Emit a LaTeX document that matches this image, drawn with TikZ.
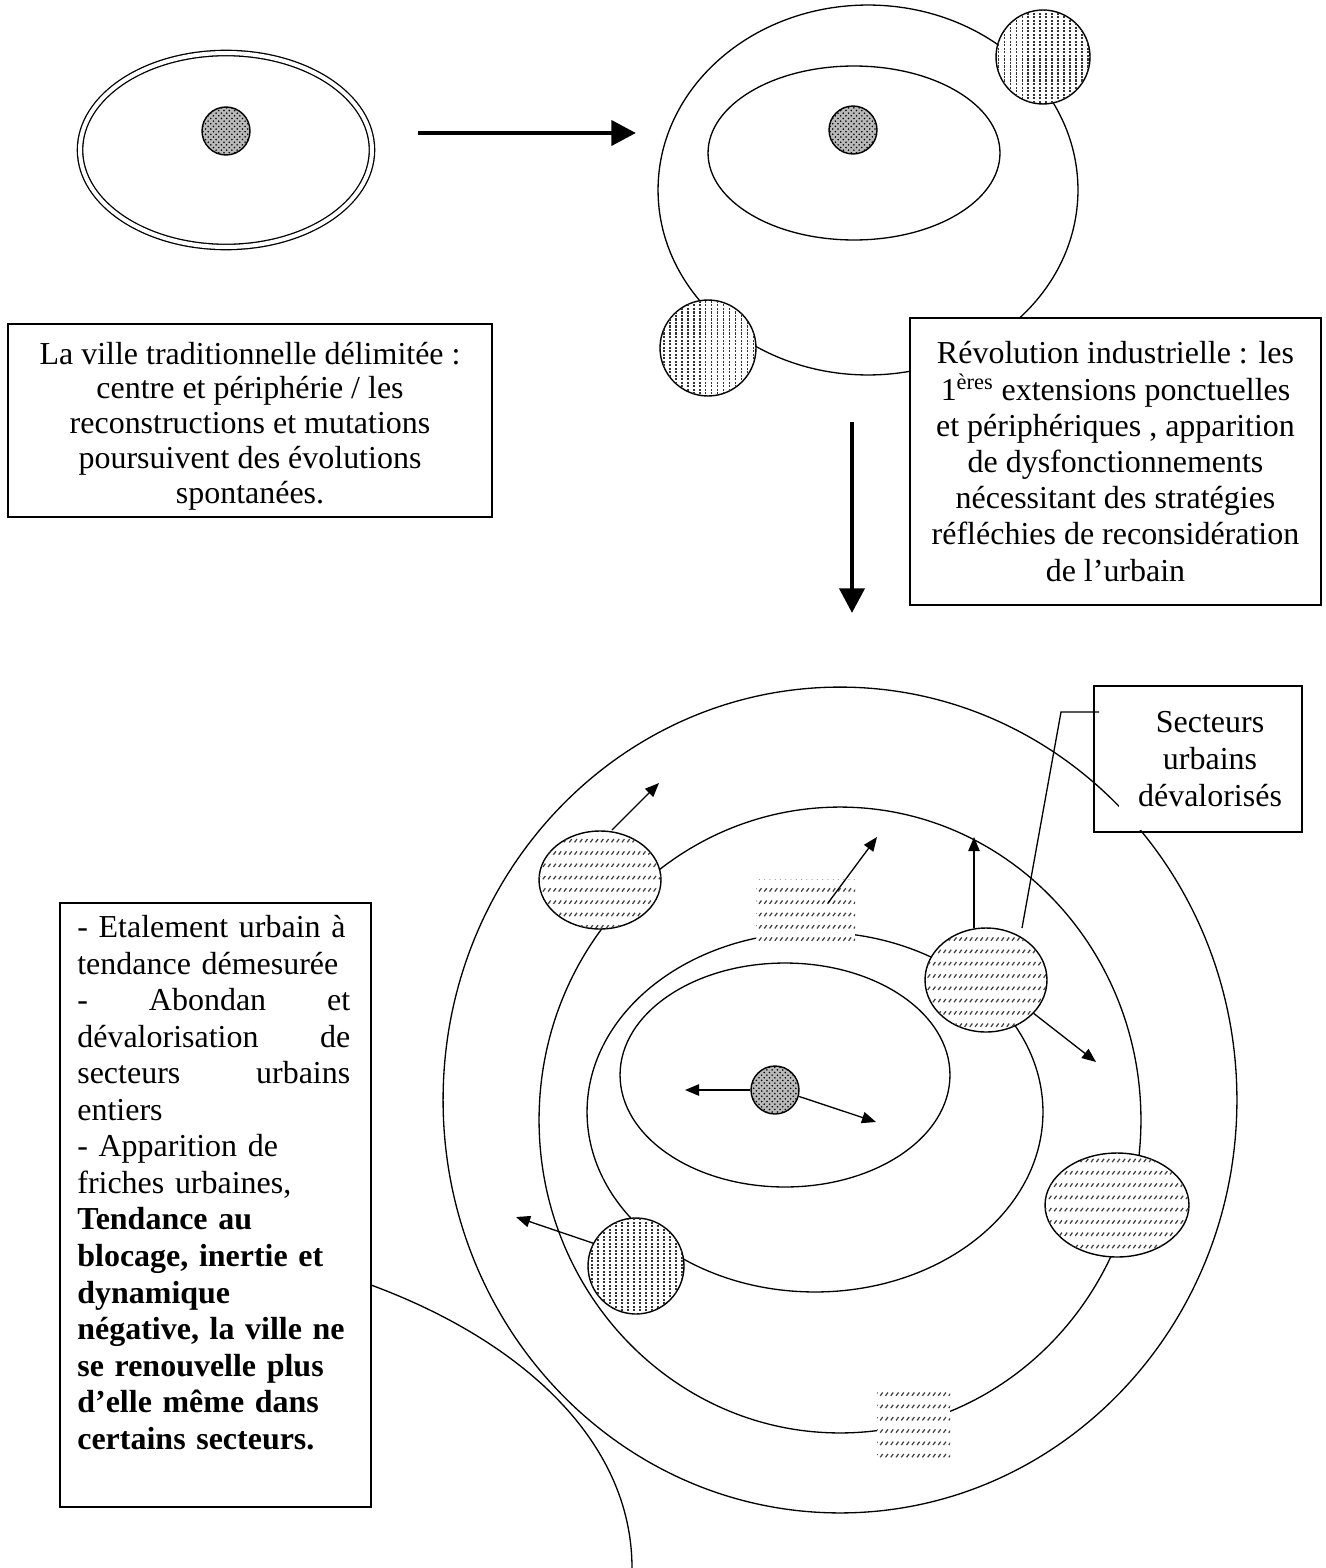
\documentclass[tikz,border=0pt]{standalone}
\usepackage{fontspec}
\setmainfont{Liberation Serif}
\usetikzlibrary{shapes.geometric,arrows.meta,patterns}
\pgfdeclarepatternformonly{vdotlines}{\pgfqpoint{-0.5pt}{-0.5pt}}{\pgfqpoint{3.9pt}{2.5pt}}{\pgfqpoint{3.4pt}{2pt}}{%
  \pgfpathrectangle{\pgfqpoint{0pt}{0pt}}{\pgfqpoint{0.9pt}{1.2pt}}\pgfusepath{fill}}
\pgfdeclarepatternformonly{hwaves}{\pgfqpoint{-0.5pt}{-0.5pt}}{\pgfqpoint{3.5pt}{7.3pt}}{\pgfqpoint{3pt}{7pt}}{%
  \pgfsetlinewidth{0.7pt}\pgfpathmoveto{\pgfqpoint{0pt}{0pt}}\pgfpathlineto{\pgfqpoint{1.4pt}{1.9pt}}\pgfusepath{stroke}}
\begin{document}
\begin{tikzpicture}[x=0.02cm,y=-0.02cm,
  ring/.style={line width=0.75pt},
  hv/.style={draw, line width=0.8pt, inner sep=0pt, fill=white, postaction={pattern=vdotlines, pattern color=black!80}},
  hh/.style={draw, line width=0.8pt, inner sep=0pt, fill=white, postaction={pattern=hwaves, pattern color=black!75}},
  hsq/.style={inner sep=0pt, fill=white, postaction={pattern=hwaves, pattern color=black!75}},
  cdot/.style={circle, draw, line width=0.8pt, inner sep=0pt, minimum size=0.96cm, fill=gray!55, postaction={pattern=crosshatch dots, pattern color=black}},
  thinarrow/.style={line width=0.75pt, -{Triangle[length=8pt,width=6.5pt]}},
  bigarrow/.style={line width=2.8pt, -{Triangle[length=14pt,width=14pt]}},
  txt/.style={font=\fontsize{18.2pt}{19.8pt}\selectfont},
  box/.style={draw, line width=0.75pt, fill=white, inner sep=0pt}
]
\useasboundingbox (0,0) rectangle (1325,1568);

% ---------- top left: traditional city ----------
\node[ellipse, draw, double, double distance=2.3pt, line width=0.75pt, inner sep=0pt,
      minimum width=5.84cm, minimum height=3.88cm] (oval) at (226,150) {};
\node[cdot] (dot1) at (226,131) {};

\coordinate (h1) at (418,133);
\coordinate (h2) at (636,133);
\draw[bigarrow] (h1) -- (h2);

% ---------- top right: industrial revolution ----------
\node[ellipse, draw, ring, inner sep=0pt, minimum width=8.4cm, minimum height=7.4cm] (bigE) at (868,190) {};
\node[ellipse, draw, ring, inner sep=0pt, minimum width=5.84cm, minimum height=3.48cm] (innE) at (854,153) {};
\node[cdot] (dot2) at (853,130) {};
\node[hv, circle, minimum size=1.88cm] (cTR) at (1043,57) {};
\node[hv, circle, minimum size=1.92cm] (cL) at (708,348) {};

\coordinate (v1) at (852,422);
\coordinate (v2) at (852,613);
\draw[bigarrow] (v1) -- (v2);

% ---------- text boxes top ----------
\node[box, minimum width=9.68cm, minimum height=3.86cm] (b1) at (250,420.5) {};
\node[txt, align=center, inner sep=0pt] (t1) at (250,426)
 {La ville traditionnelle délimitée :\\
  centre et périphérie / les\\
  reconstructions et mutations\\
  poursuivent des évolutions\\
  spontanées.};

\node[box, txt, align=center, minimum width=8.22cm, minimum height=5.74cm,
      font=\fontsize{18.2pt}{20.6pt}\selectfont] (b2) at (1115.5,461.5)
 {Révolution industrielle : les\\
  1\textsuperscript{ères} extensions ponctuelles\\
  et périphériques , apparition\\
  de dysfonctionnements\\
  nécessitant des stratégies\\
  réfléchies de reconsidération\\
  de l’urbain};

% ---------- bottom diagram: rings ----------
\node[ellipse, draw, ring, inner sep=0pt, minimum width=15.88cm, minimum height=16.52cm] (rA) at (840,1100) {};
\node[ellipse, draw, ring, inner sep=0pt, minimum width=12.04cm, minimum height=12.52cm] (rB) at (840,1120) {};
\node[ellipse, draw, ring, inner sep=0pt, minimum width=9.12cm, minimum height=7.2cm] (rC) at (815,1112) {};
\node[ellipse, draw, ring, inner sep=0pt, minimum width=6.6cm, minimum height=4.48cm] (rD) at (785,1075) {};

% hatched sectors
\node[hh, ellipse, minimum width=2.44cm, minimum height=1.96cm] (tle) at (600,880) {};
\node[hsq, rectangle, minimum width=1.98cm, minimum height=1.36cm] (tsq) at (805.5,913) {};
\node[hh, ellipse, minimum width=2.44cm, minimum height=2.08cm] (re) at (986,980) {};
\node[hv, circle, minimum size=1.92cm] (llc) at (636,1266) {};
\node[hh, ellipse, minimum width=2.88cm, minimum height=2.08cm] (rle) at (1117,1205) {};
\node[hsq, rectangle, minimum width=1.46cm, minimum height=1.4cm] (bsq) at (913.5,1423) {};
\node[cdot] (dot3) at (775,1090) {};

% arrows
\coordinate (a1) at (659,783);
\draw[thinarrow] (612,830) -- (a1);
\coordinate (a2) at (877,837);
\draw[thinarrow] (828,903) -- (a2);
\coordinate (a3) at (974,837);
\draw[thinarrow] (974,928) -- (a3);
\coordinate (a4) at (1096,1062);
\draw[thinarrow] (re.-35) -- (a4);
\coordinate (a5) at (516,1217);
\draw[thinarrow] (llc.152) -- (a5);
\coordinate (a6) at (685,1090);
\draw[thinarrow] (dot3.west) -- (a6);
\coordinate (a7) at (876,1122);
\draw[thinarrow] (dot3.-15) -- (a7);

% secteurs box
\node[draw, line width=0.75pt, inner sep=0pt, minimum width=4.16cm, minimum height=2.92cm] (b3) at (1198,759) {};
\node[txt, fill=white, inner sep=0pt, align=center, minimum width=3.64cm, minimum height=2.84cm,
      font=\fontsize{18.2pt}{21pt}\selectfont] (t3) at (1210,759)
 {Secteurs\\urbains\\dévalorisés};
\coordinate (l1) at (1099,712);
\coordinate (l2) at (1061,712);
\coordinate (l3) at (1022,928);
\draw[ring] (l1) -- (l2) -- (l3);

% left bottom box
\node[box, minimum width=6.22cm, minimum height=12.08cm] (b4) at (215.5,1205) {};
\node[txt, anchor=north west, inner sep=0pt, text width=5.46cm, align=left,
      font=\fontsize{18.2pt}{20.8pt}\selectfont] (t4) at (77,915)
 {- Etalement urbain à\\
  tendance démesurée\\
  -\hfill Abondan\hfill et\\
  dévalorisation\hfill de\\
  secteurs\hfill urbains\\
  entiers\\
  - Apparition de\\
  friches urbaines,\\
  \textbf{Tendance au}\\
  \textbf{blocage, inertie et}\\
  \textbf{dynamique}\\
  \textbf{négative, la ville ne}\\
  \textbf{se renouvelle plus}\\
  \textbf{d’elle même dans}\\
  \textbf{certains secteurs.}};

\coordinate (c1) at (371,1285);
\coordinate (c2) at (632,1568);
\draw[ring] (c1) .. controls (520,1340) and (632,1440) .. (c2);
\end{tikzpicture}
\end{document}
